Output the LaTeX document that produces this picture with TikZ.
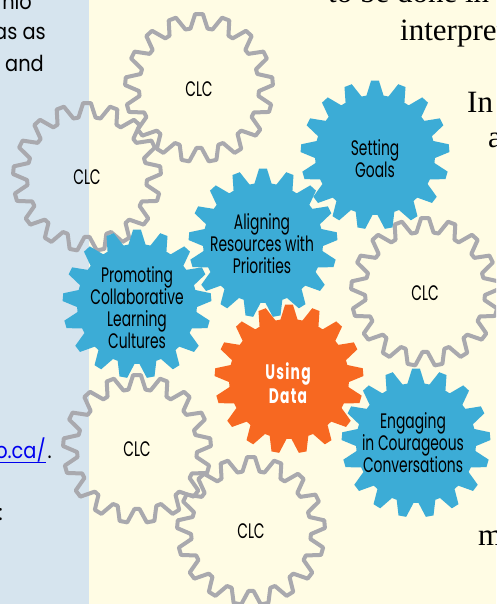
\documentclass[tikz,border=0pt]{standalone}
\usepackage{fontspec}
\setmainfont{Liberation Serif}
\newfontfamily\gearfont[FakeStretch=0.66]{Poppins}
\newfontfamily\boldgearfont[FakeStretch=0.66,LetterSpace=6]{Poppins}
\newfontfamily\sidefont[FakeStretch=0.88]{Poppins}
\definecolor{stripblue}{HTML}{D6E4EE}
\definecolor{cream}{HTML}{FFFCE4}
\definecolor{gearblue}{HTML}{3CACD6}
\definecolor{gearorange}{HTML}{F76821}
\definecolor{geargray}{HTML}{A9A9AE}
\definecolor{linkblue}{HTML}{0000EE}
% \gearshape{cx}{cy}{outer}{root}{style}
\newcommand{\gearshape}[5]{%
  \draw[#5,shift={(#1,#2)}] (90+8.2:#4 pt)
  \foreach \k in {0,...,16}{
    -- ({90-\k*21.176+8.2}:#4 pt) -- ({90-\k*21.176+3}:#3 pt)
    -- ({90-\k*21.176-3}:#3 pt) -- ({90-\k*21.176-8.2}:#4 pt)
  } -- cycle;}
\tikzset{
  gearlabel/.style={font=\gearfont\fontsize{21}{22}\selectfont,align=center,text=black,inner sep=0pt},
  boldlabel/.style={font=\boldgearfont\bfseries\fontsize{21}{24}\selectfont,align=center,text=white,inner sep=0pt},
  ringgear/.style={draw=geargray,line width=4pt,line join=round,fill=none},
  bluegear/.style={fill=gearblue,draw=none},
  orangegear/.style={fill=gearorange,draw=none},
  sidetext/.style={font=\sidefont\fontsize{22}{24}\selectfont,anchor=base east,inner sep=0pt,text=black},
  serifbody/.style={font=\fontsize{31}{33}\selectfont,anchor=base west,inner sep=0pt,text=black},
}
\begin{document}
\begin{tikzpicture}[x=1pt,y=-1pt]
\useasboundingbox (0,0) rectangle (496,604);
\clip (0,0) rectangle (496,604);
\fill[cream] (0,0) rectangle (496,604);
\fill[stripblue] (0,0) rectangle (89,604);
% side text
\node[sidetext] (t1) at (32,10) {nio};
\node[sidetext] (t2) at (46,40) {as as};
\node[sidetext] (t3) at (44,72) {and};
\node[sidetext,text=linkblue] (t4) at (46,458) {o.ca/};
\draw[linkblue,line width=1pt] (0,462) -- (46,462);
\node[sidetext] (t5) at (52,458) {.};
\node[sidetext] (t6) at (3,520) {:};
% body text
\node[serifbody] (b1) at (328,3) {to be done in};
\node[serifbody] (b2) at (400,41) {interpret};
\node[serifbody] (b3) at (467,113) {In};
\node[serifbody] (b4) at (488,148) {a};
\node[serifbody] (b5) at (478,545) {m};
% outline gears
\gearshape{199}{88}{74}{60}{ringgear}
\gearshape{87}{177}{74}{60}{ringgear}
\gearshape{425}{292}{74}{60}{ringgear}
\gearshape{137}{449}{74}{60}{ringgear}
\gearshape{251}{531}{74}{60}{ringgear}
% filled gears
\gearshape{375}{155}{74.5}{60}{bluegear}
\gearshape{263}{243}{74.5}{60}{bluegear}
\gearshape{137}{304}{74.5}{60}{bluegear}
\gearshape{416}{443}{74.5}{60}{bluegear}
\gearshape{289}{379}{74.5}{60}{orangegear}
% labels
\node[gearlabel] (clc1) at (199,89) {CLC};
\node[gearlabel] (clc2) at (87,177) {CLC};
\node[gearlabel] (clc3) at (425,293) {CLC};
\node[gearlabel] (clc4) at (137,449) {CLC};
\node[gearlabel] (clc5) at (251,531) {CLC};
\node[gearlabel] (g1) at (375,159) {Setting\\Goals};
\node[gearlabel] (g2) at (262,244) {Aligning\\Resources with\\Priorities};
\node[gearlabel] (g3) at (137,308) {Promoting\\Collaborative\\Learning\\Cultures};
\node[gearlabel] (g4) at (413,443) {Engaging\\in Courageous\\Conversations};
\node[boldlabel] (g5) at (288,383) {Using\\Data};
\end{tikzpicture}
\end{document}
